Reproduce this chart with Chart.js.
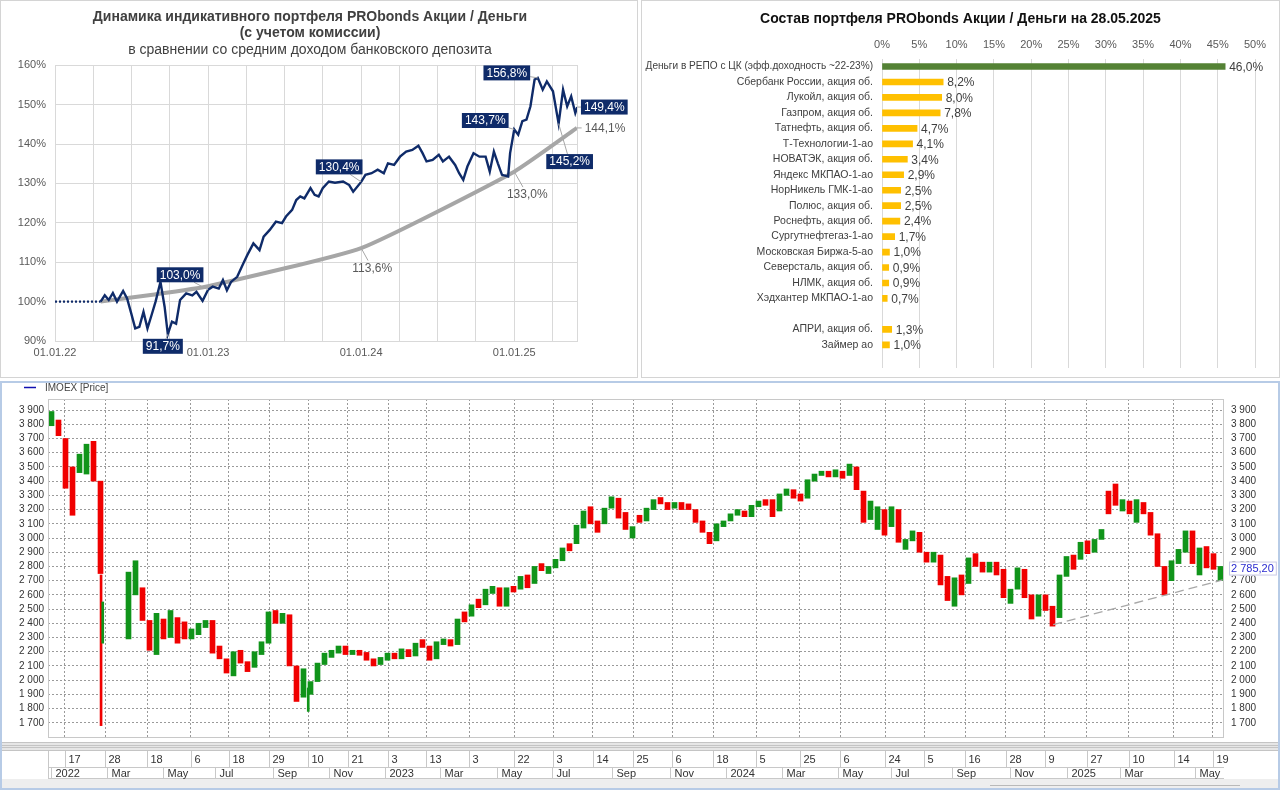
<!DOCTYPE html>
<html>
<head>
<meta charset="utf-8">
<script src="https://cdn.jsdelivr.net/npm/chart.js@4.4.1/dist/chart.umd.min.js"></script>
<style>
  html, body { margin: 0; padding: 0; background: #fff; width: 1280px; height: 791px; overflow: hidden; }
  canvas { position: absolute; display: block; }
  #c1 { left: 0; top: 0; }
  #c2 { left: 641px; top: 0; }
  #c3 { left: 0; top: 381px; }
</style>
</head>
<body>
<canvas id="c1" width="638" height="378"></canvas>
<canvas id="c2" width="639" height="378"></canvas>
<canvas id="c3" width="1280" height="410"></canvas>
<script>
// ==================================================
// DATA - PORTFOLIO vs DEPOSIT (years since 01.01.22)
// ==================================================
const portX = [0.298,0.325,0.351,0.378,0.405,0.445,0.471,0.498,0.524,0.551,
  0.578,0.604,0.631,0.657,0.689,0.716,0.737,0.764,0.791,0.817,
  0.857,0.897,0.924,0.964,1.000,1.030,1.070,1.097,1.123,1.150,
  1.190,1.230,1.256,1.296,1.336,1.363,1.403,1.443,1.483,1.509,
  1.549,1.576,1.602,1.629,1.669,1.696,1.722,1.749,1.789,1.829,
  1.882,1.922,1.948,2.000,2.028,2.068,2.108,2.148,2.175,2.215,
  2.254,2.294,2.334,2.374,2.401,2.427,2.467,2.507,2.534,2.574,
  2.614,2.640,2.667,2.694,2.734,2.773,2.813,2.840,2.867,2.893,
  2.920,2.960,2.973,3.000,3.026,3.053,3.080,3.106,3.133,3.154,
  3.186,3.213,3.253,3.290,3.319,3.346,3.372,3.399,3.412];
const portY = [100.0,101.6,100.4,102.2,100.0,102.7,100.8,97.0,93.2,93.6,
  97.4,93.2,96.6,100.0,105.0,98.7,91.7,94.9,94.4,100.4,
  102.1,101.6,102.5,100.2,103.0,103.8,103.3,105.5,102.9,105.0,
  106.3,109.7,111.8,114.8,113.1,116.5,118.2,120.3,119.9,121.6,
  123.3,125.8,126.7,126.2,128.8,127.1,126.7,128.8,130.5,130.2,
  130.5,129.6,127.9,130.4,132.2,132.6,133.5,132.6,135.1,134.7,
  136.8,138.1,138.5,139.6,137.7,135.6,136.0,137.3,135.6,136.8,
  134.7,132.6,130.9,134.3,137.7,136.8,136.8,133.0,138.1,135.1,
  132.2,131.8,137.7,143.7,142.4,145.8,146.2,149.6,156.4,156.8,
  153.8,155.9,153.4,145.2,153.8,149.6,152.1,147.9,149.4];
const startX = [0, 0.298];
const startY = [100, 100];
const depX = [0.298, 0.65, 1.0, 2.0, 3.0, 3.41];
const depY = [100, 101.8, 103.9, 113.6, 133.0, 144.1];
const quarterTicks = [0,0.25,0.5,0.75,1,1.25,1.5,1.75,2,2.25,2.5,2.75,3,3.25];
const yearLabels = { 0: '01.01.22', 1: '01.01.23', 2: '01.01.24', 3: '01.01.25' };

// labelled points: which series, which x, and where the label sits
const marks = [
  { series: 'port', at: 1.000, box: true,  dx: -28, dy: -15 },
  { series: 'port', at: 0.737, box: true,  dx: -5,  dy: 12 },
  { series: 'port', at: 2.000, box: true,  dx: -22, dy: -15 },
  { series: 'port', at: 3.000, box: true,  dx: -29, dy: -9 },
  { series: 'port', at: 3.154, box: true,  dx: -31, dy: -5 },
  { series: 'port', at: 3.412, box: true,  dx: 27,  dy: 0 },
  { series: 'port', at: 3.290, box: true,  dx: 11,  dy: 38 },
  { series: 'dep',  at: 2.0,   box: false, dx: 11,  dy: 20 },
  { series: 'dep',  at: 3.0,   box: false, dx: 13,  dy: 23 },
  { series: 'dep',  at: 3.41,  box: false, dx: 28,  dy: 0 }
];

// ==================================================
// DATA - PORTFOLIO STRUCTURE
// ==================================================
const holdings = ['Деньги в РЕПО с ЦК (эфф.доходность ~22-23%)', 'Сбербанк России, акция об.',
  'Лукойл, акция об.', 'Газпром, акция об.', 'Татнефть, акция об.', 'Т-Технологии-1-ао',
  'НОВАТЭК, акция об.', 'Яндекс МКПАО-1-ао', 'НорНикель ГМК-1-ао', 'Полюс, акция об.',
  'Роснефть, акция об.', 'Сургутнефтегаз-1-ао', 'Московская Биржа-5-ао', 'Северсталь, акция об.',
  'НЛМК, акция об.', 'Хэдхантер МКПАО-1-ао', '', 'АПРИ, акция об.', 'Займер ао', ''];
const weights = [46.0, 8.2, 8.0, 7.8, 4.7, 4.1, 3.4, 2.9, 2.5, 2.5, 2.4, 1.7, 1.0, 0.9, 0.9, 0.7, null, 1.3, 1.0, null];

// ==================================================
// DATA - IMOEX (one bar per ~week, open/close)
// ==================================================
const barOpen = [3790,3830,3700,3500,3460,3450,3680,3400,null,null,
  null,2290,2600,2650,2420,2180,2430,2300,2440,2410,
  2290,2320,2370,2420,2240,2150,2030,2210,2130,2090,
  2180,2260,2490,2400,2460,2100,1880,1900,1990,2110,
  2160,2190,2240,2180,2210,2195,2150,2110,2140,2190,
  2150,2215,2170,2285,2240,2150,2250,2285,2250,2480,
  2450,2570,2530,2610,2650,2520,2660,2640,2740,2680,
  2820,2750,2790,2840,2960,2960,3070,3220,3120,3100,
  3210,3280,3180,3000,3160,3120,3200,3285,3250,3210,
  3250,3240,3200,3120,3040,2980,3080,3120,3160,3190,
  3150,3220,3270,3270,3190,3300,3340,3310,3280,3400,
  3440,3470,3430,3470,3440,3500,3330,3130,3060,3200,
  3080,3200,2920,2980,3040,2900,2830,2880,2730,2520,
  2740,2680,2890,2830,2760,2830,2780,2540,2640,2780,
  2600,2450,2600,2520,2440,2730,2880,2850,2980,2900,
  2990,3330,3380,3190,3260,3110,3250,3180,3030,2800,
  2700,2820,2900,3050,2740,2940,2890,2700];
const barClose = [3890,3720,3350,3160,3590,3660,3400,2750,null,null,
  null,2760,2840,2420,2210,2470,2290,2490,2260,2290,
  2360,2400,2420,2190,2150,2050,2200,2120,2060,2200,
  2270,2480,2400,2470,2100,1850,2080,1990,2120,2190,
  2210,2240,2180,2210,2175,2140,2100,2160,2190,2150,
  2220,2165,2260,2230,2140,2270,2290,2240,2430,2410,
  2530,2510,2640,2660,2520,2650,2620,2730,2650,2800,
  2770,2800,2850,2930,2910,3090,3190,3100,3040,3210,
  3290,3140,3060,3080,3110,3210,3270,3240,3200,3250,
  3200,3200,3110,3040,2960,3100,3120,3170,3200,3150,
  3230,3260,3230,3150,3310,3345,3280,3260,3410,3450,
  3470,3430,3480,3420,3520,3340,3110,3260,3220,3020,
  3220,2970,2990,3050,2900,2830,2900,2670,2560,2720,
  2600,2860,2800,2760,2830,2740,2580,2640,2790,2580,
  2430,2600,2490,2380,2740,2870,2780,2970,2890,2990,
  3060,3170,3230,3270,3170,3270,3170,3020,2800,2600,
  2840,2920,3050,2820,2930,2790,2780,2800];
// single-day extremes drawn as thin wicks
const wickX = [37.9, 39.1, 185.9];
const wickFrom = [2740, 2260, 1780];
const wickTo = [1680, 2550, 1945];
const trendX = [718, 839];
const trendY = [2390, 2705];
const lastPrice = 2785.20;
const priceTicks = [1700,1800,1900,2000,2100,2200,2300,2400,2500,2600,2700,2800,2900,3000,3100,3200,3300,3400,3500,3600,3700,3800,3900];
const dayTicks = [12,41,71,102,129,158,186,214,243,270,301,333,361,389,418,446,475,506,537,566,598,626,655,684,712,742,772,804,832];
const dayLabels = ['17','28','18','6','18','29','10','21','3','13','3','22','3','14','25','6','18','5','25','6','24','5','16','28','9','27','10','14','19'];
const monthStarts = [2,42,82,119,161,201,241,280,321,360,403,444,484,524,564,602,646,687,728,766,819];
const monthLabels = ['2022','Mar','May','Jul','Sep','Nov','2023','Mar','May','Jul','Sep','Nov','2024','Mar','May','Jul','Sep','Nov','2025','Mar','May'];

Chart.defaults.font.family = '"Liberation Sans", Arial, sans-serif';
Chart.defaults.animation = false;
Chart.defaults.plugins.legend.display = false;
Chart.defaults.plugins.tooltip.enabled = false;

const NAVY = '#0f2b69';
const pct = v => v.toFixed(1).replace('.', ',') + '%';

function frame(color) {
  return {
    id: 'frame',
    afterDraw(chart) {
      const c = chart.ctx;
      c.save();
      c.strokeStyle = color;
      c.lineWidth = 1;
      c.strokeRect(0.5, 0.5, chart.width - 1, chart.height - 1);
      c.restore();
    }
  };
}

// ==================================================
// CHART 1 - DYNAMICS
// ==================================================
const markPlugin = {
  id: 'marks',
  afterDatasetsDraw(chart) {
    const c = chart.ctx;
    const xs = chart.scales.x, ys = chart.scales.y;
    c.save();
    c.font = '12px "Liberation Sans", Arial, sans-serif';
    c.textAlign = 'center';
    c.textBaseline = 'middle';
    marks.forEach(m => {
      const srcX = m.series === 'port' ? portX : depX;
      const srcY = m.series === 'port' ? portY : depY;
      const i = srcX.indexOf(m.at);
      if (i < 0) return;
      const px = xs.getPixelForValue(srcX[i]);
      const py = ys.getPixelForValue(srcY[i]);
      const txt = pct(srcY[i]);
      const cx = px + m.dx, cy = py + m.dy;
      const hw = c.measureText(txt).width / 2 + 3, hh = 7.5;
      // leader line up to the label edge
      const vx = px - cx, vy = py - cy;
      const s = Math.min(hw / Math.max(Math.abs(vx), 1e-6), hh / Math.max(Math.abs(vy), 1e-6));
      if (s < 1) {
        c.strokeStyle = '#a6a6a6';
        c.lineWidth = 1;
        c.beginPath();
        c.moveTo(cx + vx * s, cy + vy * s);
        c.lineTo(px, py);
        c.stroke();
      }
      if (m.box) {
        c.fillStyle = NAVY;
        c.fillRect(cx - hw, cy - hh, hw * 2, hh * 2);
        c.fillStyle = '#ffffff';
      } else {
        c.fillStyle = '#595959';
      }
      c.fillText(txt, cx, cy + 0.5);
    });
    c.restore();
  }
};

new Chart(document.getElementById('c1'), {
  type: 'line',
  data: {
    datasets: [
      { data: portX.map((x, i) => ({ x: x, y: portY[i] })), borderColor: NAVY, borderWidth: 2.4,
        pointRadius: 0, tension: 0, order: 0 },
      { data: startX.map((x, i) => ({ x: x, y: startY[i] })), borderColor: NAVY, borderWidth: 2.2,
        borderDash: [2, 2], pointRadius: 0, order: 0 },
      { data: depX.map((x, i) => ({ x: x, y: depY[i] })), borderColor: '#a6a6a6', borderWidth: 4,
        pointRadius: 0, tension: 0.15, order: 1 }
    ]
  },
  options: {
    responsive: false,
    layout: { padding: { left: 0, right: 18, top: 0, bottom: 0 } },
    plugins: {
      title: {
        display: true,
        text: ['Динамика индикативного портфеля PRObonds Акции / Деньги', '(с учетом комиссии)'],
        color: '#404040',
        font: { size: 14, weight: 'bold', lineHeight: 1.15 },
        padding: { top: 9, bottom: 0 }
      },
      subtitle: {
        display: true,
        text: 'в сравнении со средним доходом банковского депозита',
        color: '#404040',
        font: { size: 14, lineHeight: 1.15 },
        padding: { top: 1, bottom: 7 }
      }
    },
    scales: {
      x: {
        type: 'linear', min: 0, max: 3.41,
        afterBuildTicks: s => { s.ticks = quarterTicks.map(v => ({ value: v })); },
        afterFit: s => { s.height = 37; },
        ticks: { autoSkip: false, maxRotation: 0, padding: 5, color: '#595959', font: { size: 11 },
          callback: v => yearLabels[v] || '' },
        grid: { color: '#d9d9d9', drawTicks: false },
        border: { display: false }
      },
      y: {
        min: 90, max: 160,
        afterFit: s => { s.width = 55; },
        ticks: { stepSize: 10, padding: 9, color: '#595959', font: { size: 11 }, callback: v => v + '%' },
        grid: { color: '#d9d9d9', drawTicks: false },
        border: { display: false }
      },
      yR: {
        position: 'right', min: 90, max: 160,
        afterFit: s => { s.width = 43; },
        ticks: { display: false },
        grid: { display: false, drawTicks: false },
        border: { display: true, color: '#d9d9d9' }
      }
    }
  },
  plugins: [markPlugin, frame('#d4d4d4')]
});

// ==================================================
// CHART 2 - STRUCTURE
// ==================================================
const valuePlugin = {
  id: 'values',
  afterDatasetsDraw(chart) {
    const c = chart.ctx;
    const meta = chart.getDatasetMeta(0);
    c.save();
    c.font = '12px "Liberation Sans", Arial, sans-serif';
    c.fillStyle = '#404040';
    c.textAlign = 'left';
    c.textBaseline = 'middle';
    meta.data.forEach((el, i) => {
      if (weights[i] == null) return;
      c.fillText(pct(weights[i]), el.x + 4, el.y + 1);
    });
    c.restore();
  }
};

new Chart(document.getElementById('c2'), {
  type: 'bar',
  data: {
    labels: holdings,
    datasets: [{
      data: weights,
      backgroundColor: weights.map((v, i) => i === 0 ? '#548235' : '#ffc000'),
      barThickness: 6
    }]
  },
  options: {
    responsive: false,
    indexAxis: 'y',
    layout: { padding: { left: 0, right: 0, top: 0, bottom: 10 } },
    plugins: {
      title: {
        display: true,
        text: 'Состав портфеля PRObonds Акции / Деньги на 28.05.2025',
        color: '#111111',
        font: { size: 14, weight: 'bold', lineHeight: 1.2 },
        padding: { top: 11, bottom: 0 }
      }
    },
    scales: {
      x: {
        position: 'top', min: 0, max: 50,
        afterFit: s => { s.height = 31; },
        ticks: { stepSize: 5, padding: 7, color: '#595959', font: { size: 11 }, callback: v => v + '%' },
        grid: { color: '#d9d9d9', drawTicks: false },
        border: { display: false }
      },
      y: {
        afterFit: s => { s.width = 241; s.paddingTop = 0; s.paddingBottom = 0; },
        ticks: { autoSkip: false, padding: 9, color: '#404040',
          font: ctx => ({ size: ctx.index === 0 ? 10.1 : 10.5 }) },
        grid: { display: false, drawTicks: false },
        border: { display: false }
      },
      yR: {
        type: 'linear', position: 'right',
        afterFit: s => { s.width = 25; s.paddingTop = 0; s.paddingBottom = 0; },
        ticks: { display: false },
        grid: { display: false, drawTicks: false },
        border: { display: false }
      }
    }
  },
  plugins: [valuePlugin, frame('#d4d4d4')]
});

// ==================================================
// CHART 3 - IMOEX
// ==================================================
const fmtPrice = v => String(v).replace(/\B(?=(\d{3})+(?!\d))/g, ' ');
const UP = '#10941a', DOWN = '#f00000';

const candles = [];
barOpen.forEach((o, i) => {
  if (o == null || barClose[i] == null) return;
  candles.push({ x: i * 5 + 2.5, y: [o, barClose[i]] });
});
const wicks = wickX.map((x, i) => ({ x: x, y: [wickFrom[i], wickTo[i]] }));
const dirColor = ctx => {
  const r = ctx.raw;
  return r && r.y[1] >= r.y[0] ? UP : DOWN;
};

const stripPlugin = {
  id: 'strip',
  afterDraw(chart) {
    const c = chart.ctx, a = chart.chartArea, xs = chart.scales.x, ys = chart.scales.y;
    const W = chart.width, b = a.bottom;
    c.save();
    // plot frame
    c.strokeStyle = '#c8c8c8';
    c.lineWidth = 1;
    c.strokeRect(a.left + 0.5, a.top + 0.5, a.right - a.left - 1, b - a.top);

    // legend
    c.strokeStyle = '#1010b0';
    c.lineWidth = 1.5;
    c.beginPath(); c.moveTo(24, 6.5); c.lineTo(36, 6.5); c.stroke();
    c.fillStyle = '#444';
    c.font = '10px "Liberation Sans", Arial, sans-serif';
    c.textBaseline = 'middle';
    c.fillText('IMOEX [Price]', 45, 7);

    // separator band under the plot
    c.fillStyle = '#e6e6e6';
    c.fillRect(0, b + 5, W, 9);
    c.strokeStyle = '#c4c4c4';
    c.lineWidth = 1;
    [b + 5.5, b + 8.5, b + 10.5, b + 13.5].forEach(y => {
      c.beginPath(); c.moveTo(0, y); c.lineTo(W, y); c.stroke();
    });

    // date rows
    const r1 = b + 14, r2 = b + 30, r3 = b + 41;
    c.strokeStyle = '#c8c8c8';
    [r2 + 0.5, r3 + 0.5].forEach(y => {
      c.beginPath(); c.moveTo(a.left, y); c.lineTo(a.right, y); c.stroke();
    });
    c.beginPath(); c.moveTo(a.left + 0.5, r1); c.lineTo(a.left + 0.5, r3); c.stroke();
    c.fillStyle = '#333';
    c.font = '11px "Liberation Sans", Arial, sans-serif';
    c.textAlign = 'left';
    dayTicks.forEach((t, i) => {
      const x = Math.round(xs.getPixelForValue(t)) + 0.5;
      c.beginPath(); c.moveTo(x, r1); c.lineTo(x, r2); c.stroke();
      c.fillText(dayLabels[i], x + 3, r1 + 8.5);
    });
    monthStarts.forEach((t, i) => {
      const x = Math.round(xs.getPixelForValue(t)) + 0.5;
      c.beginPath(); c.moveTo(x, r2); c.lineTo(x, r3); c.stroke();
      c.fillText(monthLabels[i], x + 4, r2 + 6.5);
    });

    // bottom strip with scrollbar trace
    c.fillStyle = '#eeeeee';
    c.fillRect(0, r3 + 1, W, 10);
    c.strokeStyle = '#b9b9b9';
    c.beginPath(); c.moveTo(990, r3 + 7.5); c.lineTo(1240, r3 + 7.5); c.stroke();

    // outer blue frame
    c.strokeStyle = '#b7cbe6';
    c.lineWidth = 2;
    c.strokeRect(1, 1, W - 2, chart.height - 3);

    // last price tag
    const yp = ys.getPixelForValue(lastPrice);
    c.font = '11px "Liberation Sans", Arial, sans-serif';
    const txt = '2 785,20';
    const tw = c.measureText(txt).width;
    c.fillStyle = '#ffffff';
    c.fillRect(a.right + 5, yp - 7, tw + 4, 14);
    c.strokeStyle = '#c9c9e6';
    c.lineWidth = 1;
    c.strokeRect(a.right + 5.5, yp - 6.5, tw + 4, 13);
    c.fillStyle = '#2a2ad0';
    c.fillText(txt, a.right + 7, yp + 0.5);
    c.restore();
  }
};

new Chart(document.getElementById('c3'), {
  type: 'bar',
  data: {
    datasets: [
      { type: 'bar', data: candles, backgroundColor: dirColor, barThickness: 5, grouped: false, order: 1 },
      { type: 'bar', data: wicks, backgroundColor: dirColor, barThickness: 2, grouped: false, order: 1 },
      { type: 'line', data: trendX.map((x, i) => ({ x: x, y: trendY[i] })), borderColor: '#a8a8a8',
        borderWidth: 1.3, borderDash: [9, 5], pointRadius: 0, order: 0 }
    ]
  },
  options: {
    responsive: false,
    layout: { padding: { left: 0, right: 0, top: 18, bottom: 54 } },
    scales: {
      x: {
        type: 'linear', min: 0, max: 840, offset: false,
        afterBuildTicks: s => { s.ticks = dayTicks.map(v => ({ value: v })); },
        ticks: { display: false },
        grid: { color: '#9a9a9a', drawTicks: false, offset: false },
        border: { display: false, dash: [2, 2] }
      },
      y: {
        min: 1600, max: 3978,
        afterBuildTicks: s => { s.ticks = priceTicks.map(v => ({ value: v })); },
        afterFit: s => { s.width = 48; },
        ticks: { padding: 4, color: '#333', font: { size: 10 }, callback: fmtPrice },
        grid: { color: '#9a9a9a', drawTicks: false },
        border: { display: false, dash: [2, 2] }
      },
      y2: {
        position: 'right', min: 1600, max: 3978,
        afterBuildTicks: s => { s.ticks = priceTicks.map(v => ({ value: v })); },
        afterFit: s => { s.width = 56; },
        ticks: { padding: 7, color: '#333', font: { size: 10 }, callback: fmtPrice },
        grid: { display: false, drawTicks: false },
        border: { display: false }
      }
    }
  },
  plugins: [stripPlugin]
});
</script>
</body>
</html>
